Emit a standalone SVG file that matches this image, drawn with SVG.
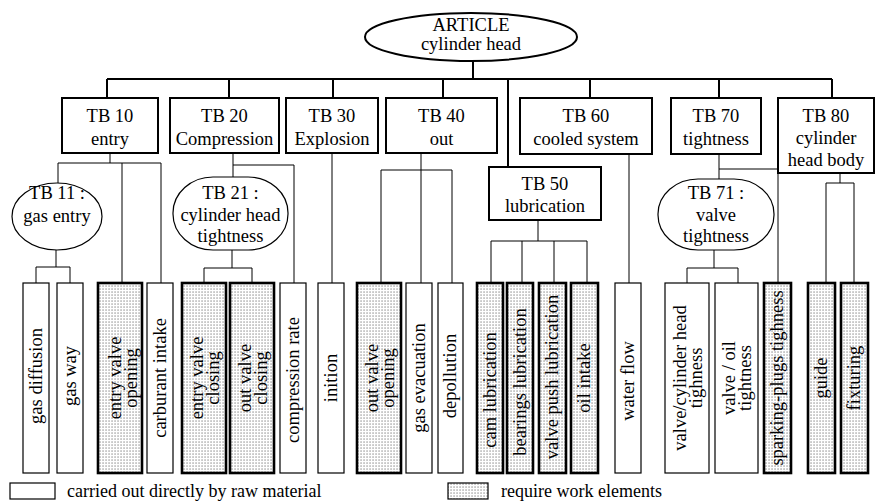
<svg xmlns="http://www.w3.org/2000/svg" width="875" height="502" viewBox="0 0 875 502">
  <style>
    text { font-family: "Liberation Serif", "Times New Roman", serif; font-size: 18.5px; fill: #000; }
    .c { text-anchor: middle; }
    .lg { font-size: 18px; }
    .box { fill: #fff; stroke: #000; stroke-width: 2; }
    .oval { fill: #fff; stroke: #000; stroke-width: 1.2; }
    .leaf { fill: #fff; stroke: #000; stroke-width: 1.2; }
    .work { fill: url(#dots); stroke: #000; stroke-width: 2.6; }
    .bus { fill: none; stroke: #000; stroke-width: 2; }
    .wire { fill: none; stroke: #000; stroke-width: 1; }
  </style>
  <defs>
    <pattern id="dots" width="3" height="3" patternUnits="userSpaceOnUse">
      <rect width="3" height="3" fill="#fff"/>
      <rect x="0.5" y="0.5" width="1.1" height="1.1" fill="#666"/>
    </pattern>
  </defs>
  <rect width="875" height="502" fill="#fff"/>

  <!-- connectors -->
  <g id="connectors">
    <path class="bus" d="M473 61V79M107 79H832M107 79V98M229 79V98M333 79V98M443 79V98M508 79V167M590 79V98M719 79V98M832 79V98"/>
    <path class="wire" d="M110 153V163M58 163H161M58 163V183M122 163V283M161 163V283"/>
    <path class="wire" d="M56 250V267M36 267H70M36 267V283M70 267V283"/>
    <path class="wire" d="M233 153V177M233 165H294V283"/>
    <path class="wire" d="M232 250V268M204 268H252M204 268V283M252 268V283"/>
    <path class="wire" d="M332 153V283"/>
    <path class="wire" d="M421 153V170M381 170H452M381 170V283M421 170V283M452 170V283"/>
    <path class="wire" d="M538 220V241M491 241H587M491 241V283M522 241V283M554 241V283M587 241V283"/>
    <path class="wire" d="M629 154V283"/>
    <path class="wire" d="M719 154V179M719 169H778V283"/>
    <path class="wire" d="M714 250V268M687 268H738M687 268V283M738 268V283"/>
    <path class="wire" d="M840 173V183M826 183H854M826 183V283M854 183V283"/>
  </g>

  <!-- root -->
  <g id="article">
    <ellipse cx="471" cy="37" rx="106" ry="24" fill="#fff" stroke="#000" stroke-width="2"/>
    <text class="c" x="471" y="31">ARTICLE</text>
    <text class="c" x="471" y="50">cylinder head</text>
  </g>

  <!-- first-level blocks -->
  <g id="tb10"><rect class="box" x="62" y="98" width="96" height="55"/><text class="c" x="110" y="122">TB 10</text><text class="c" x="110" y="145">entry</text></g>
  <g id="tb20"><rect class="box" x="170" y="98" width="109" height="55"/><text class="c" x="224.5" y="122">TB 20</text><text class="c" x="224.5" y="145">Compression</text></g>
  <g id="tb30"><rect class="box" x="286" y="98" width="92" height="55"/><text class="c" x="332" y="122">TB 30</text><text class="c" x="332" y="145">Explosion</text></g>
  <g id="tb40"><rect class="box" x="386" y="98" width="111" height="55"/><text class="c" x="441.5" y="122">TB 40</text><text class="c" x="441.5" y="145">out</text></g>
  <g id="tb50"><rect class="box" x="489" y="167" width="112" height="53"/><text class="c" x="545" y="190">TB 50</text><text class="c" x="545" y="212">lubrication</text></g>
  <g id="tb60"><rect class="box" x="520" y="98" width="132" height="56"/><text class="c" x="586" y="122">TB 60</text><text class="c" x="586" y="145">cooled system</text></g>
  <g id="tb70"><rect class="box" x="671" y="98" width="90" height="56"/><text class="c" x="716" y="122">TB 70</text><text class="c" x="716" y="145">tightness</text></g>
  <g id="tb80"><rect class="box" x="778" y="98" width="96" height="75"/><text class="c" x="826" y="122">TB 80</text><text class="c" x="826" y="144">cylinder</text><text class="c" x="826" y="166">head body</text></g>

  <!-- second-level blocks -->
  <g id="tb11"><ellipse class="oval" cx="57" cy="216.5" rx="45" ry="33.5"/><text class="c" x="57" y="199">TB 11 :</text><text class="c" x="57" y="222">gas entry</text></g>
  <g id="tb21"><rect class="oval" x="173" y="177" width="115" height="73" rx="40" ry="36"/><text class="c" x="230.5" y="199">TB 21 :</text><text class="c" x="230.5" y="221">cylinder head</text><text class="c" x="230.5" y="242">tightness</text></g>
  <g id="tb71"><rect class="oval" x="658" y="179" width="116" height="71" rx="40" ry="35"/><text class="c" x="716" y="199">TB 71 :</text><text class="c" x="716" y="221">valve</text><text class="c" x="716" y="242">tightness</text></g>

  <!-- functions (rotated labels) -->
  <g id="gas-diffusion"><rect class="leaf" x="23" y="283" width="26" height="190"/><text class="c" transform="translate(42 376) rotate(-90)">gas diffusion</text></g>
  <g id="gas-way"><rect class="leaf" x="57" y="283" width="26" height="190"/><text class="c" transform="translate(76 376) rotate(-90)">gas way</text></g>
  <g id="entry-valve-opening"><rect class="work" x="98" y="283" width="44" height="190"/><text class="c" transform="translate(121 378) rotate(-90)">entry valve</text><text class="c" transform="translate(137 378) rotate(-90)">opening</text></g>
  <g id="carburant-intake"><rect class="leaf" x="147" y="283" width="26" height="190"/><text class="c" transform="translate(166 378) rotate(-90)">carburant intake</text></g>
  <g id="entry-valve-closing"><rect class="work" x="182" y="283" width="44" height="190"/><text class="c" transform="translate(203 378) rotate(-90)">entry valve</text><text class="c" transform="translate(219 378) rotate(-90)">closing</text></g>
  <g id="out-valve-closing"><rect class="work" x="230" y="283" width="44" height="190"/><text class="c" transform="translate(251 378) rotate(-90)">out valve</text><text class="c" transform="translate(267 378) rotate(-90)">closing</text></g>
  <g id="compression-rate"><rect class="leaf" x="280" y="283" width="26" height="190"/><text class="c" transform="translate(299 380) rotate(-90)">compression rate</text></g>
  <g id="inition"><rect class="leaf" x="318" y="283" width="26" height="190"/><text class="c" transform="translate(337 378) rotate(-90)">inition</text></g>
  <g id="out-valve-opening"><rect class="work" x="357" y="283" width="44" height="190"/><text class="c" transform="translate(378 378) rotate(-90)">out valve</text><text class="c" transform="translate(394 378) rotate(-90)">opening</text></g>
  <g id="gas-evacuation"><rect class="leaf" x="406" y="283" width="26" height="190"/><text class="c" transform="translate(425 378) rotate(-90)">gas evacuation</text></g>
  <g id="depollution"><rect class="leaf" x="438" y="283" width="25" height="190"/><text class="c" transform="translate(456 376) rotate(-90)">depollution</text></g>
  <g id="cam-lubrication"><rect class="work" x="477" y="283" width="26" height="190"/><text class="c" transform="translate(496 390) rotate(-90)">cam lubrication</text></g>
  <g id="bearings-lubrication"><rect class="work" x="507" y="283" width="26" height="190"/><text class="c" transform="translate(526 382) rotate(-90)">bearings lubrication</text></g>
  <g id="valve-push-lubrication"><rect class="work" x="539" y="283" width="27" height="190"/><text class="c" transform="translate(558 377) rotate(-90)">valve push lubrication</text></g>
  <g id="oil-intake"><rect class="work" x="571" y="283" width="27" height="190"/><text class="c" transform="translate(590 378) rotate(-90)">oil intake</text></g>
  <g id="water-flow"><rect class="leaf" x="615" y="283" width="26" height="190"/><text class="c" transform="translate(634 381) rotate(-90)">water flow</text></g>
  <g id="valve-cylinder-head"><rect class="leaf" x="665" y="283" width="44" height="190"/><text class="c" transform="translate(686 378) rotate(-90)">valve/cylinder head</text><text class="c" transform="translate(702 378) rotate(-90)">tighness</text></g>
  <g id="valve-oil"><rect class="leaf" x="715" y="283" width="43" height="190"/><text class="c" transform="translate(735 378) rotate(-90)">valve / oil</text><text class="c" transform="translate(751 378) rotate(-90)">tightness</text></g>
  <g id="sparking-plugs"><rect class="work" x="764" y="283" width="27" height="190"/><text class="c" transform="translate(783 378) rotate(-90)">sparking-plugs tighness</text></g>
  <g id="guide"><rect class="work" x="808" y="283" width="27" height="190"/><text class="c" transform="translate(827 378) rotate(-90)">guide</text></g>
  <g id="fixturing"><rect class="work" x="841" y="283" width="27" height="190"/><text class="c" transform="translate(860 378) rotate(-90)">fixturing</text></g>

  <!-- legend -->
  <g id="legend">
    <rect class="leaf" x="10" y="483" width="45" height="16"/>
    <text class="lg" x="67" y="497">carried out directly by raw material</text>
    <rect x="448" y="483" width="40" height="16" fill="url(#dots)" stroke="#000" stroke-width="1.2"/>
    <text class="lg" x="501" y="497">require work elements</text>
  </g>
</svg>
